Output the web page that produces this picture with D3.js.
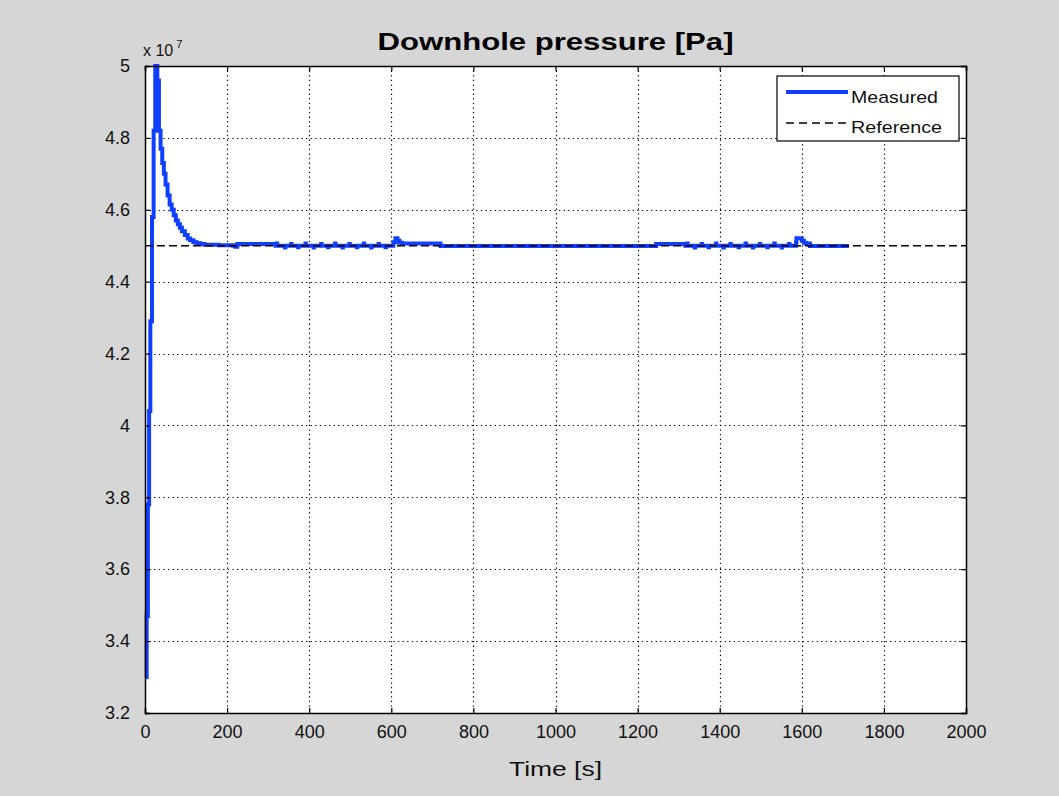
<!DOCTYPE html>
<html><head><meta charset="utf-8">
<script src="https://cdn.jsdelivr.net/npm/d3@7"></script>
<style>
html,body{margin:0;padding:0;background:#d6d6d6;overflow:hidden;}
svg{display:block;font-family:"Liberation Sans",Arial,sans-serif;}
</style></head>
<body>
<script>
// ---- data (pressure in units of 1e7 Pa) ----
const measuredTime = [0,4,7,10,13,17,21,25,30,34,38,42,46,50,55,60,65,70,75,80,85,90,97,104,110,118,126,135,145,
  180,215,220,225,
  300,318,
  320,321,322, 340,341,342, 355,356,357, 372,373,374, 390,391,392, 410,411,412, 428,429,430, 445,446,447,
  462,463,464, 480,481,482, 497,498,499, 515,516,517, 532,533,534, 550,551,552, 568,569,570, 585,586,587,
  600,605,610,615,620,626,
  715,720,
  1240,1245,
  1312,1316,
  1320,1321,1322, 1338,1339,1340, 1355,1356,1357, 1372,1373,1374, 1390,1391,1392, 1408,1409,1410, 1425,1426,1427,
  1445,1446,1447, 1462,1463,1464, 1480,1481,1482, 1497,1498,1499, 1515,1516,1517, 1532,1533,1534, 1550,1551,1552,
  1568,1569,1570, 1585,1586,1587,
  1600,1605,1610,1615,1620,1626,
  1715,1720,
  2000];
const measuredValue = [3.30,3.47,3.78,4.04,4.29,4.58,4.82,5.00,4.96,4.82,4.77,4.73,4.70,4.67,4.64,4.615,4.60,4.585,4.57,4.56,4.55,4.54,4.53,4.52,4.515,4.51,4.507,4.505,4.503,
  4.501,4.500,4.497,4.505,
  4.505,4.500,
  4.500,4.506,4.500, 4.500,4.495,4.500, 4.500,4.505,4.500, 4.500,4.496,4.500, 4.500,4.506,4.500, 4.500,4.495,4.500, 4.500,4.505,4.500, 4.500,4.496,4.500,
  4.500,4.506,4.500, 4.500,4.495,4.500, 4.500,4.505,4.500, 4.500,4.496,4.500, 4.500,4.506,4.500, 4.500,4.495,4.500, 4.500,4.505,4.500, 4.500,4.496,4.500,
  4.500,4.510,4.521,4.514,4.508,4.506,
  4.506,4.499,
  4.499,4.505,
  4.505,4.500,
  4.500,4.506,4.500, 4.500,4.495,4.500, 4.500,4.505,4.500, 4.500,4.496,4.500, 4.500,4.506,4.500, 4.500,4.495,4.500, 4.500,4.505,4.500,
  4.500,4.496,4.500, 4.500,4.506,4.500, 4.500,4.495,4.500, 4.500,4.505,4.500, 4.500,4.496,4.500, 4.500,4.506,4.500,
  4.500,4.495,4.500, 4.500,4.505,4.500,
  4.500,4.510,4.521,4.514,4.508,4.506,
  4.506,4.499,
  4.499];
const referenceTime = [0,2000];
const referenceValue = [4.5,4.5];
const xTicks = [0,200,400,600,800,1000,1200,1400,1600,1800,2000];
const yTicks = [3.2,3.4,3.6,3.8,4.0,4.2,4.4,4.6,4.8,5.0];
const yTickLabels = ["3.2","3.4","3.6","3.8","4","4.2","4.4","4.6","4.8","5"];
const seriesNames = ["Measured","Reference"];
const titleText = "Downhole pressure [Pa]";
const xLabelText = "Time [s]";

// ---- layout ----
const W = 1059, H = 796;
const plot = {l:145, r:966, t:66, b:713};
const blue = "#1040ff";
const txt = "#111";

const svg = d3.select("body").append("svg").attr("width",W).attr("height",H).attr("viewBox",`0 0 ${W} ${H}`);
svg.append("rect").attr("width",W).attr("height",H).attr("fill","#d6d6d6");

const x = d3.scaleLinear().domain([0,2000]).range([plot.l, plot.r]);
const y = d3.scaleLinear().domain([3.2,5.0]).range([plot.b, plot.t]);

svg.append("rect").attr("x",plot.l).attr("y",plot.t).attr("width",plot.r-plot.l).attr("height",plot.b-plot.t).attr("fill","#fff");

// grid
const grid = svg.append("g");
grid.selectAll(".gx").data(xTicks.slice(1,-1)).join("line")
  .attr("x1",d=>Math.round(x(d))+0.5).attr("x2",d=>Math.round(x(d))+0.5).attr("y1",plot.t).attr("y2",plot.b)
  .attr("stroke","#000").attr("stroke-width",1.2).attr("stroke-dasharray","1.3,3.3");
grid.selectAll(".gy").data(yTicks.slice(1,-1)).join("line")
  .attr("y1",d=>Math.round(y(d))+0.5).attr("y2",d=>Math.round(y(d))+0.5).attr("x1",plot.l).attr("x2",plot.r)
  .attr("stroke","#000").attr("stroke-width",1.2).attr("stroke-dasharray","1.3,3.3");

// legend box (drawn before the data, data does not reach it)
const lg = svg.append("g");
lg.append("rect").attr("x",777).attr("y",76).attr("width",182).attr("height",65).attr("fill","#fff").attr("stroke","#000").attr("stroke-width",1.2);
lg.append("path").attr("d","M786,92H848").attr("stroke",blue).attr("stroke-width",4);
lg.append("path").attr("d","M786,123H848").attr("stroke","#000").attr("stroke-width",1.3).attr("stroke-dasharray","8,5");
lg.append("text").attr("x",851).attr("y",103).attr("font-size",17).attr("fill",txt)
  .attr("textLength",87).attr("lengthAdjust","spacingAndGlyphs").text(seriesNames[0]);
lg.append("text").attr("x",851).attr("y",133).attr("font-size",17).attr("fill",txt)
  .attr("textLength",91).attr("lengthAdjust","spacingAndGlyphs").text(seriesNames[1]);

// data lines
const measured = measuredTime.map((t,i)=>[t,measuredValue[i]]);
const reference = referenceTime.map((t,i)=>[t,referenceValue[i]]);
const stepLine = d3.line().x(d=>x(d[0])).y(d=>y(d[1])).curve(d3.curveStepAfter);
const plainLine = d3.line().x(d=>x(d[0])).y(d=>y(d[1]));
// split the measured series in two parts so each path stays short
const half = measuredTime.indexOf(1240);
svg.append("path").datum(measured.slice(0, half+1)).attr("d",stepLine).attr("fill","none")
  .attr("stroke",blue).attr("stroke-width",4);
svg.append("path").datum(measured.slice(half)).attr("d",stepLine).attr("fill","none")
  .attr("stroke",blue).attr("stroke-width",4);
svg.append("path").datum(reference).attr("d",plainLine).attr("fill","none")
  .attr("stroke","#000").attr("stroke-width",1.5).attr("stroke-dasharray","8,4");

// axes (inward ticks on all four sides)
const tickLen = 5;
svg.append("g").attr("transform",`translate(0,${plot.b})`)
  .call(d3.axisBottom(x).tickValues(xTicks).tickSize(-tickLen).tickPadding(12).tickFormat(d3.format("d")));
svg.append("g").attr("transform",`translate(0,${plot.t})`)
  .call(d3.axisTop(x).tickValues(xTicks).tickSize(-tickLen).tickFormat(""));
svg.append("g").attr("transform",`translate(${plot.l},0)`)
  .call(d3.axisLeft(y).tickValues(yTicks).tickSize(-tickLen).tickPadding(15).tickFormat((d,i)=>yTickLabels[i]));
svg.append("g").attr("transform",`translate(${plot.r},0)`)
  .call(d3.axisRight(y).tickValues(yTicks).tickSize(-tickLen).tickFormat(""));
svg.selectAll(".domain").attr("stroke","#000").attr("stroke-width",1.5);
svg.selectAll(".tick line").attr("stroke","#000").attr("stroke-width",1.2);
svg.selectAll(".tick text").attr("font-size",18).attr("fill",txt).attr("font-family","Liberation Sans, Arial, sans-serif");

// exponent label
const ex = svg.append("text").attr("x",plot.l-2).attr("y",plot.t-10).attr("font-size",16).attr("fill",txt);
ex.append("tspan").text("x 10");
ex.append("tspan").attr("font-size",11).attr("dy",-8).attr("dx",3).text("7");

// title & label
svg.append("text").attr("x",(plot.l+plot.r)/2).attr("y",50).attr("text-anchor","middle")
  .attr("font-size",24).attr("font-weight","bold").attr("fill","#000")
  .attr("textLength",356).attr("lengthAdjust","spacingAndGlyphs").text(titleText);
svg.append("text").attr("x",(plot.l+plot.r)/2).attr("y",776).attr("text-anchor","middle")
  .attr("font-size",21).attr("fill",txt)
  .attr("textLength",93).attr("lengthAdjust","spacingAndGlyphs").text(xLabelText);
</script>
</body></html>
